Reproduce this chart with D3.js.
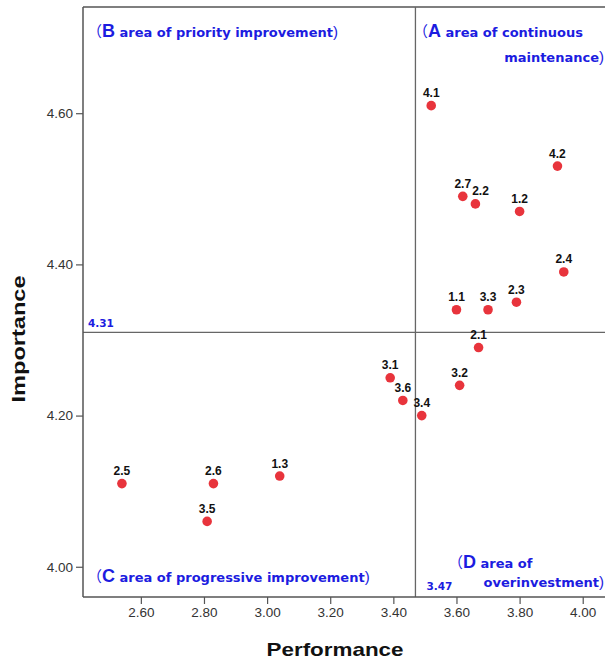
<!DOCTYPE html>
<html>
<head>
<meta charset="utf-8">
<script src="https://cdn.jsdelivr.net/npm/d3@7/dist/d3.min.js"></script>
<style>
  html, body { margin: 0; padding: 0; background: #fff; }
  svg { display: block; }
</style>
</head>
<body>
<svg id="chart" width="605" height="662"></svg>
<script>
// ---- data ----
const labels      = ["4.1","4.2","2.7","2.2","1.2","2.4","1.1","3.3","2.3","2.1","3.2","3.1","3.6","3.4","2.5","2.6","1.3","3.5"];
const performance = [3.52, 3.92, 3.62, 3.66, 3.80, 3.94, 3.60, 3.70, 3.79, 3.67, 3.61, 3.39, 3.43, 3.49, 2.54, 2.83, 3.04, 2.81];
const importance  = [4.61, 4.53, 4.49, 4.48, 4.47, 4.39, 4.34, 4.34, 4.35, 4.29, 4.24, 4.25, 4.22, 4.20, 4.11, 4.11, 4.12, 4.06];
const xTicks = [2.60, 2.80, 3.00, 3.20, 3.40, 3.60, 3.80, 4.00];
const yTicks = [4.00, 4.20, 4.40, 4.60];
const meanPerformance = 3.47;
const meanImportance = 4.31;
const xDomain = [2.4167, 4.0706];
const yDomain = [3.960, 4.7405];

// ---- layout ----
const L = 83, R = 605, T = 7, B = 597;
const svg = d3.select("#chart");
const x = d3.scaleLinear().domain(xDomain).range([L, R]);
const y = d3.scaleLinear().domain(yDomain).range([B, T]);

const blue = "#1c1ce0";
const axisColor = "#555";
const cjk = "'Noto Sans CJK KR', 'Noto Sans CJK SC', sans-serif";
const qfont = "'DejaVu Sans', sans-serif";
const arial = "'Liberation Sans', Arial, sans-serif";

// frame top
svg.append("line").attr("x1", L).attr("x2", R + 2).attr("y1", T).attr("y2", T)
  .attr("stroke", axisColor).attr("stroke-width", 1.5);

// reference lines
svg.append("line")
  .attr("x1", x(meanPerformance)).attr("x2", x(meanPerformance))
  .attr("y1", T).attr("y2", B)
  .attr("stroke", "#666").attr("stroke-width", 1.3);
svg.append("line")
  .attr("x1", L).attr("x2", R + 2)
  .attr("y1", y(meanImportance)).attr("y2", y(meanImportance))
  .attr("stroke", "#666").attr("stroke-width", 1.3);

// axes
const xAxis = d3.axisBottom(x).tickValues(xTicks).tickFormat(d3.format(".2f"))
  .tickSize(7).tickPadding(3).tickSizeOuter(0);
const yAxis = d3.axisLeft(y).tickValues(yTicks).tickFormat(d3.format(".2f"))
  .tickSize(7).tickPadding(3).tickSizeOuter(0);

const gx = svg.append("g").attr("transform", `translate(0,${B})`).call(xAxis);
const gy = svg.append("g").attr("transform", `translate(${L},0)`).call(yAxis);
[gx, gy].forEach(g => {
  g.select(".domain").attr("stroke", axisColor).attr("stroke-width", 1.5);
  g.selectAll(".tick line").attr("stroke", axisColor).attr("stroke-width", 1.2);
  g.selectAll(".tick text").attr("fill", "#333")
    .style("font-family", arial)
    .style("font-size", "13.5px");
});
gx.select(".domain").attr("d", `M${L},0H${R + 2}`);
gy.select(".domain").attr("d", `M0,${T}V${B}`);

// points
const data = labels.map((l, i) => ({ label: l, p: performance[i], imp: importance[i] }));
svg.append("g").selectAll("circle").data(data).join("circle")
  .attr("cx", d => x(d.p)).attr("cy", d => y(d.imp)).attr("r", 4.8)
  .attr("fill", "#e8343c");

// point labels with a simple horizontal de-overlap nudge
const placed = [];
const lg = svg.append("g");
data.forEach(d => {
  let cx = x(d.p);
  const cy = y(d.imp) - 8.5;
  const t = lg.append("text").attr("x", cx).attr("y", cy)
    .attr("text-anchor", "middle")
    .style("font-family", arial)
    .style("font-weight", "bold").style("font-size", "12px")
    .attr("fill", "#111")
    .text(d.label);
  const w = t.node().getComputedTextLength();
  placed.forEach(o => {
    if (Math.abs(o.y - cy) < 11 && Math.abs(o.x - cx) < w + 1) {
      cx = o.x > cx ? o.x - w - 1 : o.x + w + 1;
    }
  });
  t.attr("x", cx);
  placed.push({ x: cx, y: cy });
});

// quadrant labels
function qlabel(xp, yp, big, rest, close, anchor) {
  const t = svg.append("text").attr("x", xp).attr("y", yp)
    .attr("fill", blue).style("font-weight", "bold");
  if (anchor) t.attr("text-anchor", anchor);
  if (big !== null) {
    t.append("tspan").style("font-family", cjk).style("font-size", "15px").style("font-weight", "normal").text("（");
    t.append("tspan").style("font-family", arial).style("font-size", "18px").text(big);
  }
  t.append("tspan").style("font-family", qfont).style("font-size", "13px").text(rest);
  if (close) {
    t.append("tspan").style("font-family", arial).style("font-size", "15px").style("font-weight", "normal").text(")");
  }
  return t;
}
qlabel(87, 37, "B", " area of priority improvement", true);
qlabel(413, 37, "A", " area of continuous", false);
qlabel(604, 62, null, "maintenance", true, "end");
qlabel(87, 582, "C", " area of progressive improvement", true);
qlabel(448, 568, "D", " area of", false);
qlabel(604, 587, null, "overinvestment", true, "end");

// mean value labels
svg.append("text").attr("x", 88).attr("y", 327)
  .attr("fill", blue).style("font-family", qfont).style("font-weight", "bold")
  .style("font-size", "10.5px").text(d3.format(".2f")(meanImportance));
svg.append("text").attr("x", x(meanPerformance) + 11).attr("y", 590)
  .attr("fill", blue).style("font-family", qfont).style("font-weight", "bold")
  .style("font-size", "10.5px").text(d3.format(".2f")(meanPerformance));

// axis titles
svg.append("text").attr("x", 335).attr("y", 656).attr("text-anchor", "middle")
  .style("font-family", arial)
  .style("font-weight", "bold").style("font-size", "19px").attr("fill", "#111")
  .attr("textLength", 137).attr("lengthAdjust", "spacingAndGlyphs")
  .text("Performance");
svg.append("text")
  .attr("transform", `translate(25,339) rotate(-90)`).attr("text-anchor", "middle")
  .style("font-family", arial)
  .style("font-weight", "bold").style("font-size", "19px").attr("fill", "#111")
  .attr("textLength", 127).attr("lengthAdjust", "spacingAndGlyphs")
  .text("Importance");
</script>
</body>
</html>
